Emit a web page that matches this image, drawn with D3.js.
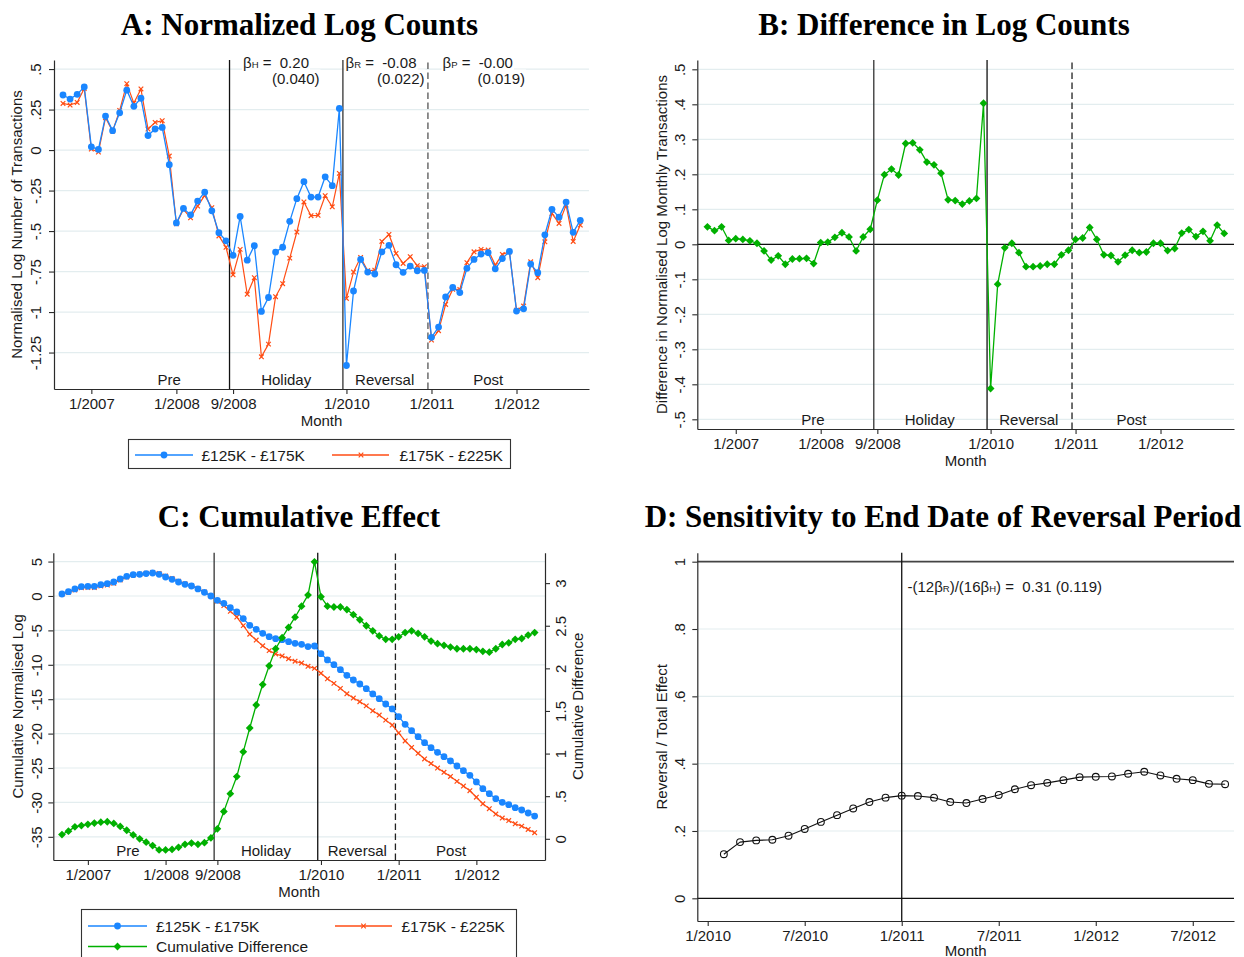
<!DOCTYPE html>
<html><head><meta charset="utf-8">
<script src="https://cdn.jsdelivr.net/npm/d3@7"></script>
<style>
body{margin:0;background:#fff}
svg text{font-family:"Liberation Sans",Arial,sans-serif;fill:#1a1a1a;white-space:pre}
.ttl{font-family:"Liberation Serif","Times New Roman",serif !important;font-weight:bold;fill:#000}
</style>
</head><body><svg id="c" width="1244" height="957"></svg>
<script>
// ---------------- DATA ----------------
const seriesNames = ["£125K - £175K", "£175K - £225K", "Cumulative Difference"];
const periodNames = ["Pre", "Holiday", "Reversal", "Post"];
const startMonth = "9/2006";           // first month of panels A-C
const periodBreaks = ["8/2008|9/2008", "12/2009|1/2010", "12/2010|1/2011"];

// A: normalised log counts
const logLow = [0.34,0.315,0.344,0.39,0.02,0.004,0.21,0.12,0.23,0.37,
  0.27,0.32,0.09,0.13,0.14,-0.09,-0.45,-0.36,-0.40,-0.315,
  -0.26,-0.375,-0.51,-0.56,-0.65,-0.41,-0.68,-0.59,-0.996,-0.91,
  -0.63,-0.60,-0.44,-0.30,-0.195,-0.29,-0.29,-0.165,-0.22,0.257,
  -1.33,-0.87,-0.675,-0.753,-0.765,-0.628,-0.588,-0.708,-0.755,-0.716,
  -0.745,-0.743,-1.156,-1.093,-0.907,-0.848,-0.88,-0.73,-0.675,-0.642,
  -0.634,-0.733,-0.67,-0.626,-0.994,-0.98,-0.704,-0.757,-0.523,-0.366,
  -0.414,-0.321,-0.508,-0.434];
const logHigh = [0.288,0.278,0.294,0.38,0.006,-0.012,0.20,0.117,0.245,0.41,
  0.29,0.377,0.13,0.171,0.181,-0.037,-0.455,-0.366,-0.418,-0.346,
  -0.28,-0.356,-0.53,-0.60,-0.77,-0.613,-0.89,-0.788,-1.276,-1.198,
  -0.905,-0.825,-0.667,-0.506,-0.32,-0.405,-0.403,-0.282,-0.35,-0.144,
  -0.916,-0.753,-0.663,-0.745,-0.741,-0.564,-0.521,-0.638,-0.70,-0.658,
  -0.714,-0.72,-1.173,-1.115,-0.953,-0.86,-0.86,-0.695,-0.628,-0.613,
  -0.617,-0.71,-0.644,-0.628,-0.988,-0.963,-0.69,-0.788,-0.566,-0.391,
  -0.453,-0.34,-0.564,-0.463];

// B: difference in log counts
const logDiff = [0.050,0.039,0.050,0.011,0.016,0.014,0.010,0.003,-0.019,-0.045,
  -0.033,-0.057,-0.042,-0.041,-0.040,-0.055,0.005,0.006,0.020,0.033,
  0.021,-0.019,0.021,0.043,0.126,0.199,0.215,0.198,0.288,0.290,
  0.270,0.235,0.227,0.203,0.127,0.125,0.115,0.124,0.131,0.403,
  -0.412,-0.114,-0.010,0.003,-0.024,-0.064,-0.064,-0.062,-0.057,-0.057,
  -0.030,-0.017,0.014,0.018,0.048,0.014,-0.030,-0.032,-0.050,-0.031,
  -0.017,-0.024,-0.022,0.003,0.003,-0.018,-0.012,0.032,0.042,0.022,
  0.037,0.010,0.055,0.031];

// C: cumulative values
const cumLow = [0.29,0.63,1.02,1.36,1.41,1.41,1.65,1.79,2.03,2.47,
  2.86,3.10,3.15,3.25,3.34,3.15,2.76,2.42,2.03,1.70,
  1.45,1.02,0.53,0.0,-0.63,-1.07,-1.70,-2.33,-3.29,-4.26,
  -4.84,-5.43,-5.91,-6.20,-6.35,-6.64,-6.88,-7.02,-7.36,-7.27,
  -8.38,-9.30,-9.98,-10.71,-11.53,-12.21,-12.79,-13.47,-14.24,-14.92,
  -15.70,-16.42,-17.54,-18.65,-19.57,-20.45,-21.32,-22.04,-22.72,-23.35,
  -23.98,-24.71,-25.39,-26.07,-27.03,-28.00,-28.73,-29.46,-29.99,-30.33,
  -30.77,-31.10,-31.54,-31.98];
const cumHigh = [0.24,0.54,0.88,1.205,1.24,1.225,1.455,1.59,1.85,2.325,
  2.76,3.055,3.15,3.29,3.42,3.28,2.89,2.545,2.13,1.765,
  1.50,1.085,0.575,-0.01,-0.75,-1.39,-2.23,-3.06,-4.31,-5.56,
  -6.41,-7.24,-7.94,-8.43,-8.71,-9.12,-9.48,-9.75,-10.22,-10.52,
  -11.22,-12.03,-12.70,-13.43,-14.22,-14.84,-15.36,-15.97,-16.68,-17.30,
  -18.04,-18.76,-19.91,-21.07,-22.01,-22.86,-23.69,-24.36,-25.01,-25.62,
  -26.23,-26.94,-27.62,-28.30,-29.25,-30.20,-30.92,-31.69,-32.27,-32.63,
  -33.11,-33.45,-33.93,-34.40];
const cumDiff = [0.05,0.09,0.14,0.155,0.17,0.185,0.195,0.20,0.18,0.145,
  0.10,0.045,0.0,-0.04,-0.08,-0.13,-0.13,-0.125,-0.10,-0.065,
  -0.05,-0.065,-0.045,0.01,0.117,0.32,0.53,0.73,1.02,1.30,
  1.57,1.81,2.03,2.23,2.36,2.48,2.60,2.73,2.86,3.25,
  2.84,2.73,2.72,2.72,2.69,2.63,2.57,2.50,2.44,2.38,
  2.34,2.34,2.37,2.42,2.44,2.41,2.37,2.32,2.29,2.27,
  2.25,2.23,2.23,2.23,2.22,2.20,2.19,2.23,2.28,2.30,
  2.34,2.35,2.39,2.42];

// D: reversal / total effect by end month
const dStartMonth = "2/2010";
const dRatio = [0.131,0.167,0.172,0.174,0.186,0.206,0.227,0.247,0.267,0.286,0.299,
  0.305,0.304,0.299,0.286,0.283,0.295,0.307,0.324,0.336,0.343,0.351,0.360,
  0.361,0.362,0.370,0.376,0.365,0.355,0.351,0.340,0.339];
const dRefLines = [0, 1];
const dVLine = "1/2011";

// ticks
const xTicksABC = ["1/2007","1/2008","9/2008","1/2010","1/2011","1/2012"];
const xTicksD = ["1/2010","7/2010","1/2011","7/2011","1/2012","7/2012"];
const yTicksA = [0.5,0.25,0,-0.25,-0.5,-0.75,-1,-1.25];
const yTicksB = [0.5,0.4,0.3,0.2,0.1,0,-0.1,-0.2,-0.3,-0.4,-0.5];
const yTicksCL = [5,0,-5,-10,-15,-20,-25,-30,-35];
const yTicksCR = [0,0.5,1,1.5,2,2.5,3];
const yTicksD = [0,0.2,0.4,0.6,0.8,1];

// ---------------- HELPERS ----------------
const COL = {blue:"#1a86ff", orange:"#ff4d14", green:"#00b000"};
const svg = d3.select("#c");
svg.append("rect").attr("width",1244).attr("height",957).attr("fill","#fff");

function mIdx(s){ const [m,y]=s.split("/").map(Number); return y*12+m; }
const base = mIdx(startMonth);
const rel = s => mIdx(s) - base;
const brk = s => { const [a,b] = s.split("|"); return (rel(a)+rel(b))/2; };
const fmt = v => { if (v===0) return "0"; return String(v).replace(/^0\./,".").replace(/^-0\./,"-."); };

function styleAxis(ax){
  ax.attr("font-family",null).attr("font-size",null).attr("color","#2a2a2a");
  ax.selectAll("text").style("font-size","15px");
  ax.select(".domain").attr("stroke-width",1.2);
  ax.selectAll(".tick line").attr("stroke-width",1.1);
}
function grid(g, x, y, ticks){
  g.append("g").selectAll("line").data(ticks).join("line")
    .attr("x1",x.range()[0]).attr("x2",x.range()[1])
    .attr("y1",d=>y(d)).attr("y2",d=>y(d))
    .attr("stroke","#e3edef").attr("stroke-width",1.2);
}
function yAxis(g, y, ticks, xPos, side, labOff, title, titleOff){
  const gen = side==="left" ? d3.axisLeft(y) : d3.axisRight(y);
  const ax = g.append("g").attr("transform",`translate(${xPos},0)`)
    .call(gen.tickValues(ticks).tickFormat(fmt).tickSize(5).tickSizeOuter(0));
  styleAxis(ax);
  const s = side==="left" ? -1 : 1;
  ax.selectAll("text").attr("x",0).attr("y",0).attr("dy","0.35em")
    .attr("text-anchor","middle").attr("transform",`translate(${s*labOff},0) rotate(-90)`);
  const [r0,r1] = y.range();
  g.append("text").attr("transform",`translate(${xPos + s*titleOff},${(r0+r1)/2}) rotate(-90)`)
    .attr("text-anchor","middle").attr("dy","0.35em").style("font-size","15px").text(title);
}
function xAxis(g, x, yPos, labels, toIdx, monthOff){
  const ax = g.append("g").attr("transform",`translate(0,${yPos})`)
    .call(d3.axisBottom(x).tickValues(labels.map(toIdx)).tickFormat((d,i)=>labels[i]).tickSize(5).tickSizeOuter(0));
  styleAxis(ax);
  ax.selectAll("text").attr("y",9).attr("dy","0.71em");
  const [r0,r1] = x.range();
  g.append("text").attr("x",(r0+r1)/2).attr("y",yPos+(monthOff||37)).attr("text-anchor","middle")
    .style("font-size","15px").text("Month");
}
function vline(g, x, y, at, dashed, color){
  const [b,t] = y.range();
  g.append("line").attr("x1",x(at)).attr("x2",x(at)).attr("y1",b).attr("y2",t)
    .attr("stroke",color||"#111").attr("stroke-width",1.3)
    .attr("stroke-dasharray",dashed?"6.5,3.5":null);
}
function marker(g, type, cx, cy, color){
  if (type==="circle") g.append("circle").attr("cx",cx).attr("cy",cy).attr("r",3.4).attr("fill",color);
  else if (type==="hollow") g.append("circle").attr("cx",cx).attr("cy",cy).attr("r",3.4).attr("fill","none").attr("stroke",color).attr("stroke-width",1.1);
  else if (type==="x") g.append("path").attr("d",`M${cx-2.3},${cy-2.3}L${cx+2.3},${cy+2.3}M${cx-2.3},${cy+2.3}L${cx+2.3},${cy-2.3}`).attr("stroke",color).attr("stroke-width",1.2);
  else if (type==="diamond") g.append("path").attr("d",`M${cx},${cy-3.9}L${cx+3.9},${cy}L${cx},${cy+3.9}L${cx-3.9},${cy}Z`).attr("fill",color);
}
function series(g, x, y, vals, idxFn, color, type, lw){
  const pts = vals.map((v,i)=>[x(idxFn(i)), y(v)]);
  g.append("path").attr("d",d3.line()(pts)).attr("fill","none").attr("stroke",color).attr("stroke-width",lw||1.3).attr("stroke-linejoin","round");
  const mg = g.append("g");
  pts.forEach(p=>marker(mg,type,p[0],p[1],color));
}
function periodLabels(g, x, yPos, positions){
  periodNames.forEach((n,i)=>g.append("text").attr("x",x(positions[i])).attr("y",yPos)
    .attr("text-anchor","middle").style("font-size","15px").text(n));
}
function title(txt, cx, by){
  svg.append("text").attr("class","ttl").attr("x",cx).attr("y",by).attr("text-anchor","middle")
    .style("font-size","31px").text(txt);
}
function subText(g, xPos, yPos, parts, anchor){
  const t = g.append("text").attr("x",xPos).attr("y",yPos).attr("text-anchor",anchor||"start").style("font-size","15px");
  parts.forEach(p=>{
    if (typeof p === "string") t.append("tspan").text(p);
    else t.append("tspan").style("font-size","9.5px").text(p.sub);
  });
  return t;
}
function bgText(g, t){
  const bb = t.node().getBBox();
  g.insert("rect", () => t.node()).attr("x",bb.x-1).attr("y",bb.y).attr("width",bb.width+2).attr("height",bb.height).attr("fill","#fff");
}
const idxFn = i => i;

// ---------------- PANEL A ----------------
{
  const x = d3.scaleLinear().domain([-1.27, 74.23]).range([54, 589]);
  const y = d3.scaleLinear().domain([-1.475, 0.556]).range([389, 60]);
  const g = svg.append("g");
  grid(g, x, y, yTicksA);
  vline(g, x, y, brk(periodBreaks[0]), false, "#111");
  vline(g, x, y, brk(periodBreaks[1]), false, "#333");
  vline(g, x, y, brk(periodBreaks[2]), true, "#555");
  series(g, x, y, logHigh, idxFn, COL.orange, "x", 1.2);
  series(g, x, y, logLow, idxFn, COL.blue, "circle", 1.3);
  yAxis(g, y, yTicksA, 54, "left", 18, "Normalised Log Number of Transactions", 37);
  xAxis(g, x, 389, xTicksABC, rel);
  periodLabels(g, x, 385, [15, 31.5, 45.4, 60]);
  const ag = g.append("g");
  const t1 = subText(ag, 243, 68, ["β",{sub:"H"}," =  0.20"]);
  const t2 = subText(ag, 319.5, 83.5, ["(0.040)"], "end");
  const t3 = subText(ag, 345.5, 68, ["β",{sub:"R"}," =  -0.08"]);
  const t4 = subText(ag, 424.5, 83.5, ["(0.022)"], "end");
  const t5 = subText(ag, 442.5, 68, ["β",{sub:"P"}," =  -0.00"]);
  const t6 = subText(ag, 525, 83.5, ["(0.019)"], "end");
  [t1,t2,t3,t4,t5,t6].forEach(t=>bgText(ag,t));
  title("A: Normalized Log Counts", 299.5, 35);
  // legend
  const lg = svg.append("g");
  lg.append("rect").attr("x",128.5).attr("y",439.5).attr("width",382).attr("height",29).attr("fill","#fff").attr("stroke","#333").attr("stroke-width",1.1);
  [[135,193,164,201.5,COL.blue,"circle",seriesNames[0]],[332,389,361,399.5,COL.orange,"x",seriesNames[1]]].forEach(d=>{
    lg.append("line").attr("x1",d[0]).attr("x2",d[1]).attr("y1",455).attr("y2",455).attr("stroke",d[4]).attr("stroke-width",1.3);
    marker(lg,d[5],d[2],455,d[4]);
    lg.append("text").attr("x",d[3]).attr("y",460.5).style("font-size","15.5px").text(d[6]);
  });
}

// ---------------- PANEL B ----------------
{
  const x = d3.scaleLinear().domain([-1.43, 74.38]).range([697.3, 1234]);
  const y = d3.scaleLinear().domain([-0.5277, 0.5266]).range([429, 60]);
  const g = svg.append("g");
  grid(g, x, y, yTicksB);
  g.append("line").attr("x1",697.3).attr("x2",1234).attr("y1",y(0)).attr("y2",y(0)).attr("stroke","#111").attr("stroke-width",1.3);
  vline(g, x, y, brk(periodBreaks[0]), false, "#333");
  vline(g, x, y, brk(periodBreaks[1]), false, "#111");
  vline(g, x, y, brk(periodBreaks[2]), true, "#222");
  series(g, x, y, logDiff, idxFn, COL.green, "diamond", 1.3);
  yAxis(g, y, yTicksB, 697.3, "left", 17.5, "Difference in Normalised Log Monthly Transactions", 36);
  xAxis(g, x, 429, xTicksABC, rel);
  periodLabels(g, x, 425, [14.9, 31.4, 45.4, 59.9]);
  title("B: Difference in Log Counts", 944, 35);
}

// ---------------- PANEL C ----------------
{
  const x = d3.scaleLinear().domain([-1.34, 74.6]).range([53.3, 545]);
  const yL = d3.scaleLinear().domain([-38.37, 6.29]).range([860, 552.7]);
  const yR = d3.scaleLinear().domain([-0.2488, 3.357]).range([860, 552.7]);
  const g = svg.append("g");
  grid(g, x, yL, yTicksCL);
  vline(g, x, yL, brk(periodBreaks[0]), false, "#333");
  vline(g, x, yL, brk(periodBreaks[1]), false, "#111");
  vline(g, x, yL, brk(periodBreaks[2]), true, "#222");
  series(g, x, yL, cumHigh, idxFn, COL.orange, "x", 1.2);
  series(g, x, yL, cumLow, idxFn, COL.blue, "circle", 1.3);
  series(g, x, yR, cumDiff, idxFn, COL.green, "diamond", 1.3);
  yAxis(g, yL, yTicksCL, 53.3, "left", 17, "Cumulative Normalised Log", 36);
  yAxis(g, yR, yTicksCR, 545, "right", 15.5, "Cumulative Difference", 32.5);
  xAxis(g, x, 860, xTicksABC, rel);
  periodLabels(g, x, 856, [10.2, 31.5, 45.6, 60.1]);
  title("C: Cumulative Effect", 299, 527);
  const lg = svg.append("g");
  lg.append("rect").attr("x",81.5).attr("y",909.5).attr("width",435).attr("height",62).attr("fill","#fff").attr("stroke","#333").attr("stroke-width",1.1);
  [[88,147,117.5,156,926,COL.blue,"circle",seriesNames[0]],
   [335,392,363.5,401.5,926,COL.orange,"x",seriesNames[1]],
   [88,147,117.5,156,946.5,COL.green,"diamond",seriesNames[2]]].forEach(d=>{
    lg.append("line").attr("x1",d[0]).attr("x2",d[1]).attr("y1",d[4]).attr("y2",d[4]).attr("stroke",d[5]).attr("stroke-width",1.3);
    marker(lg,d[6],d[2],d[4],d[5]);
    lg.append("text").attr("x",d[3]).attr("y",d[4]+5.5).style("font-size","15.5px").text(d[7]);
  });
}

// ---------------- PANEL D ----------------
{
  const dBase = mIdx("1/2010");
  const relD = s => mIdx(s) - dBase;
  const first = relD(dStartMonth);
  const x = d3.scaleLinear().domain([-0.643, 32.55]).range([697.3, 1234]);
  const y = d3.scaleLinear().domain([-0.0674, 1.0267]).range([921, 552.7]);
  const g = svg.append("g");
  grid(g, x, y, yTicksD.filter(v=>!dRefLines.includes(v)));
  g.append("line").attr("x1",697.3).attr("x2",1234).attr("y1",y(dRefLines[1])).attr("y2",y(dRefLines[1])).attr("stroke","#444").attr("stroke-width",1.8);
  g.append("line").attr("x1",697.3).attr("x2",1234).attr("y1",y(dRefLines[0])).attr("y2",y(dRefLines[0])).attr("stroke","#111").attr("stroke-width",1.3);
  vline(g, x, y, relD(dVLine), false, "#111");
  series(g, x, y, dRatio, i=>first+i, "#111", "hollow", 1.1);
  yAxis(g, y, yTicksD, 697.3, "left", 17.5, "Reversal / Total Effect", 36);
  xAxis(g, x, 921, xTicksD, relD, 34.5);
  subText(g, 907.5, 592, ["-(12β",{sub:"R"},")/(16β",{sub:"H"},") =  0.31 (0.119)"]);
  title("D: Sensitivity to End Date of Reversal Period", 943, 527);
}
</script></body></html>
